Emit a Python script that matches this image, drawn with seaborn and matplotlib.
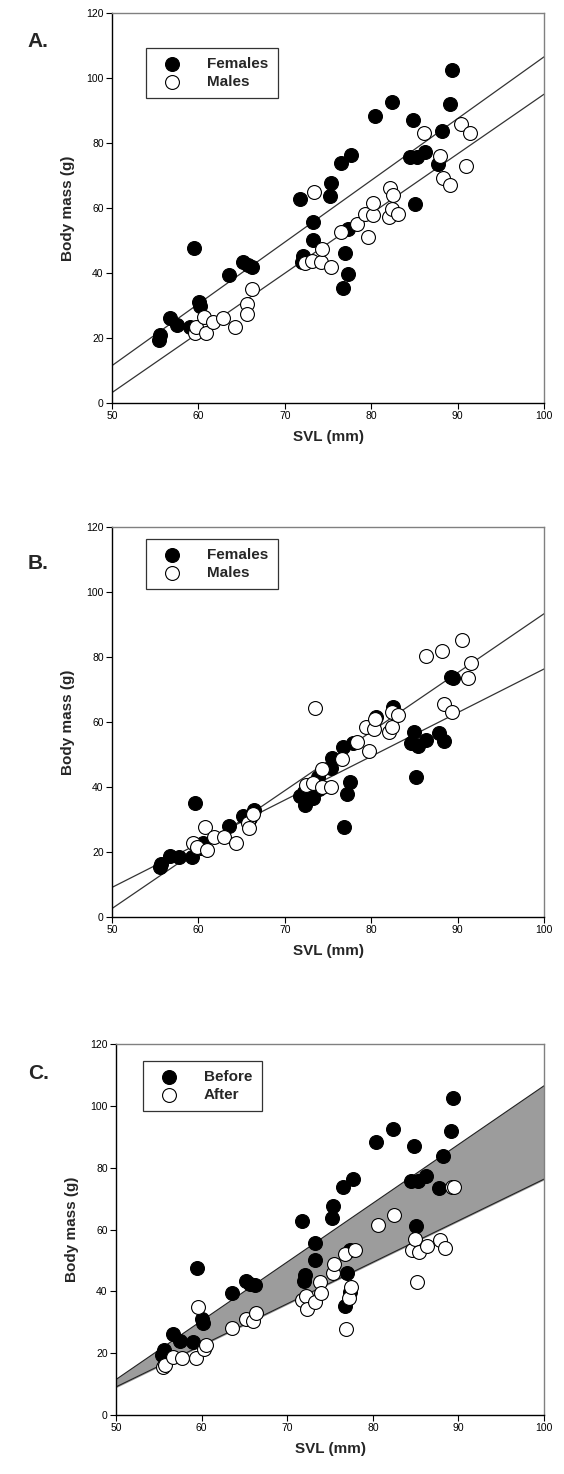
import matplotlib
matplotlib.use("Agg")
import matplotlib.pyplot as plt
import seaborn as sns
import numpy as np

# Panel A: body mass vs SVL by sex
fem_a_svl = [55.4, 55.6, 56.7, 57.5, 59.0, 59.5, 60.1, 60.2, 63.5, 65.2, 65.7, 66.2,
             71.7, 72.0, 72.1, 73.3, 73.3, 75.2, 75.4, 76.5, 76.7, 77.0, 77.3, 77.3,
             77.7, 80.4, 82.4, 84.5, 84.8, 85.1, 85.3, 86.2, 87.7, 88.2, 89.1, 89.4]
fem_a_mass = [19.4, 20.9, 26.1, 24.0, 23.5, 47.6, 31.2, 29.8, 39.4, 43.3, 42.5, 41.9,
              62.8, 43.5, 45.2, 55.8, 50.3, 63.8, 67.6, 73.9, 35.3, 46.0, 39.7, 53.4,
              76.3, 88.4, 92.5, 75.8, 87.1, 61.3, 75.8, 77.3, 73.5, 83.7, 92.0, 102.5]
male_a_svl = [59.6, 59.7, 60.6, 60.9, 61.7, 62.9, 64.2, 65.6, 65.6, 66.2, 72.3, 73.2,
              73.4, 74.2, 74.3, 75.3, 76.5, 78.3, 79.3, 79.6, 80.2, 80.2, 82.0, 82.2,
              82.4, 82.5, 83.1, 86.1, 88.0, 88.3, 89.1, 90.4, 91.0, 91.4]
male_a_mass = [21.4, 23.3, 26.6, 21.6, 25.0, 26.1, 23.5, 30.6, 27.4, 35.1, 43.0, 43.8,
               65.0, 43.5, 47.4, 41.7, 52.5, 55.1, 58.2, 51.2, 57.8, 61.5, 57.3, 66.0,
               59.6, 64.0, 58.3, 83.0, 76.1, 69.1, 67.1, 85.8, 73.0, 83.2]

# Panel B
fem_b_svl = [55.5, 55.7, 56.7, 57.7, 59.3, 59.6, 60.3, 60.5, 63.5, 65.2, 66.0, 66.4,
             71.7, 72.2, 72.3, 73.3, 73.8, 73.9, 75.3, 75.5, 76.7, 76.9, 77.2, 77.5,
             77.9, 80.6, 82.5, 84.6, 84.9, 85.2, 85.4, 86.3, 87.9, 88.4, 89.2, 89.5]
fem_b_mass = [15.5, 16.3, 18.9, 18.6, 18.6, 35.0, 21.3, 22.8, 28.1, 31.0, 30.3, 33.0,
              37.3, 38.4, 34.4, 36.7, 43.1, 39.4, 45.9, 49.0, 52.2, 27.8, 37.8, 41.4,
              53.4, 61.6, 64.6, 53.4, 57.0, 43.0, 52.6, 54.6, 56.7, 54.0, 73.9, 73.6]
male_b_svl = [59.4, 59.8, 60.8, 61.0, 61.8, 63.0, 64.4, 65.7, 65.9, 66.3, 72.4, 73.3,
              73.5, 74.3, 74.3, 75.4, 76.6, 78.4, 79.4, 79.7, 80.3, 80.4, 82.1, 82.4,
              82.4, 83.1, 86.3, 88.2, 88.4, 89.3, 90.5, 91.2, 91.5]
male_b_mass = [22.7, 21.6, 27.6, 20.6, 24.5, 24.7, 22.7, 29.0, 27.3, 31.7, 40.6, 41.2,
               64.2, 40.1, 45.5, 39.9, 48.6, 53.7, 58.4, 51.1, 57.8, 61.0, 57.0, 63.0,
               58.4, 62.2, 80.4, 81.9, 65.5, 63.0, 85.2, 73.6, 78.2]

# regression lines, mass at SVL = 50 and 100
line_x = [50, 100]
fem_a_line = [11.5, 106.5]
male_a_line = [3.2, 95.0]
fem_b_line = [9.1, 76.3]
male_b_line = [2.6, 93.3]

fig = plt.figure(figsize=(5.64, 14.74), dpi=100)
sns.set_style("white")
plt.rcParams["font.family"] = ["Liberation Sans", "DejaVu Sans"]

rects = [[0.1986, 0.7266, 0.766, 0.2646],
         [0.1986, 0.3779, 0.766, 0.2646],
         [0.2057, 0.0400, 0.7589, 0.2517]]
letters = ["A.", "B.", "C."]
letter_y = [0.972, 0.618, 0.272]
legend_anchor = [(0.079, 0.91), (0.079, 0.97), (0.063, 0.955)]


def style_axes(ax):
    ax.set_xlim(50, 100)
    ax.set_ylim(0, 120)
    ax.set_xticks([50, 60, 70, 80, 90, 100])
    ax.set_yticks([0, 20, 40, 60, 80, 100, 120])
    ax.tick_params(axis="both", direction="out", length=4, width=0.8,
                   labelsize=7.5, colors="black", left=True, bottom=True, pad=2)
    for s in ["left", "bottom"]:
        ax.spines[s].set_color("black")
        ax.spines[s].set_linewidth(1.0)
    for s in ["top", "right"]:
        ax.spines[s].set_color("#808080")
        ax.spines[s].set_linewidth(1.0)
    ax.set_xlabel("SVL (mm)", fontsize=11, fontweight="bold", labelpad=6)
    ax.set_ylabel("Body mass (g)", fontsize=11, fontweight="bold", labelpad=8)
    ax.grid(False)


def add_legend(ax, anchor):
    leg = ax.legend(loc="upper left", bbox_to_anchor=anchor, borderaxespad=0,
                    frameon=True, fancybox=False, prop={"weight": "bold", "size": 11},
                    handletextpad=1.2, borderpad=0.6, labelspacing=0.25,
                    handlelength=2.2, scatterpoints=1)
    leg.get_frame().set_edgecolor("black")
    leg.get_frame().set_linewidth(0.9)


axes = [fig.add_axes(r) for r in rects]

# Panel A
ax = axes[0]
ax.plot(line_x, fem_a_line, color="#333333", lw=0.9, zorder=1)
ax.plot(line_x, male_a_line, color="#333333", lw=0.9, zorder=1)
sns.scatterplot(x=fem_a_svl, y=fem_a_mass, ax=ax, color="black", edgecolor="black",
                s=100, linewidth=0.8, label="Females", zorder=3)
sns.scatterplot(x=male_a_svl, y=male_a_mass, ax=ax, color="white", edgecolor="black",
                s=100, linewidth=0.8, label="Males", zorder=4)

# Panel B
ax = axes[1]
ax.plot(line_x, fem_b_line, color="#333333", lw=0.9, zorder=1)
ax.plot(line_x, male_b_line, color="#333333", lw=0.9, zorder=1)
sns.scatterplot(x=fem_b_svl, y=fem_b_mass, ax=ax, color="black", edgecolor="black",
                s=100, linewidth=0.8, label="Females", zorder=3)
sns.scatterplot(x=male_b_svl, y=male_b_mass, ax=ax, color="white", edgecolor="black",
                s=100, linewidth=0.8, label="Males", zorder=4)

# Panel C: females before and after
ax = axes[2]
ax.fill_between(line_x, fem_b_line, fem_a_line, color="#9c9c9c", zorder=1)
ax.plot(line_x, fem_a_line, color="#222222", lw=0.8, zorder=2)
ax.plot(line_x, fem_b_line, color="#222222", lw=0.8, zorder=2)
sns.scatterplot(x=fem_a_svl, y=fem_a_mass, ax=ax, color="black", edgecolor="black",
                s=100, linewidth=0.8, label="Before", zorder=3)
sns.scatterplot(x=fem_b_svl, y=fem_b_mass, ax=ax, color="white", edgecolor="black",
                s=100, linewidth=0.8, label="After", zorder=4)

for ax, anc in zip(axes, legend_anchor):
    style_axes(ax)
    add_legend(ax, anc)

for lt, ly in zip(letters, letter_y):
    fig.text(0.068, ly, lt, fontsize=15, fontweight="bold", ha="center", va="center")

fig.savefig("out.png", dpi=100)
